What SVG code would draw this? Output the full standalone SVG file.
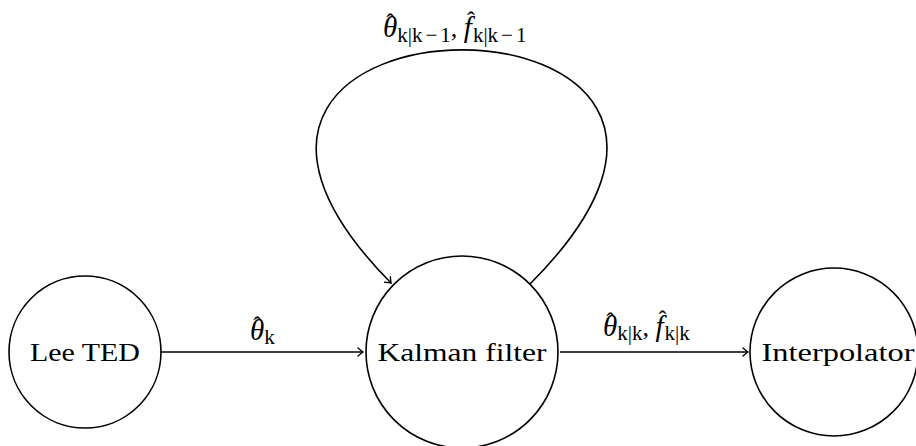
<svg xmlns="http://www.w3.org/2000/svg" width="916" height="446" viewBox="0 0 916 446">
<style>
.node{fill:#fff;stroke:#000;stroke-width:1.6}
.edge{fill:none;stroke:#000;stroke-width:1.6}
.lbl{font-family:"Liberation Serif","DejaVu Serif",serif;fill:#000}
.v{font-style:italic;font-size:29px}
.h{font-size:24px}
.s{font-size:21px}
.c{font-size:26px}
</style>
<defs>
<marker id="arr" viewBox="-6 -5 8 10" markerWidth="8" markerHeight="10" refX="0" refY="0" orient="auto" markerUnits="userSpaceOnUse">
<path d="M-5,-4 Q-1.5,-1 0,0 Q-1.5,1 -5,4" fill="none" stroke="#000" stroke-width="1.4" stroke-linecap="round"/>
</marker>
</defs>
<g id="connectors">
<path class="edge" d="M161,352 L363,352" marker-end="url(#arr)"/>
<path class="edge" d="M560,352 L748,352" marker-end="url(#arr)"/>
<path class="edge" d="M530,284 C842,-28 84,-28 391,283" marker-end="url(#arr)"/>
<text class="lbl" x="250" y="340"><tspan class="v">θ</tspan><tspan class="h" dx="-11" dy="-7">ˆ</tspan><tspan class="s" dx="3" dy="11">k</tspan></text>
<text class="lbl" x="603" y="336"><tspan class="v">θ</tspan><tspan class="h" dx="-11" dy="-7">ˆ</tspan><tspan class="s" dx="3" dy="11">k|k</tspan><tspan class="c" dy="-4">, </tspan><tspan class="v">f</tspan><tspan class="h" dx="-5" dy="-9">ˆ</tspan><tspan class="s" dx="-2" dy="13">k|k</tspan></text>
<text class="lbl" x="383" y="37"><tspan class="v">θ</tspan><tspan class="h" dx="-11" dy="-7">ˆ</tspan><tspan class="s" dx="3" dy="12">k|k</tspan><tspan class="s" dx="3">−</tspan><tspan class="s" dx="3">1</tspan><tspan class="c" dy="-5">, </tspan><tspan class="v">f</tspan><tspan class="h" dx="-5" dy="-9">ˆ</tspan><tspan class="s" dx="-2" dy="14">k|k</tspan><tspan class="s" dx="3">−</tspan><tspan class="s" dx="3">1</tspan></text>
</g>
<g id="lee">
<circle class="node" cx="85" cy="352" r="76"/>
<text class="lbl" x="85" y="361" font-size="26" text-anchor="middle" textLength="110" lengthAdjust="spacingAndGlyphs">Lee TED</text>
</g>
<g id="kalman">
<circle class="node" cx="462" cy="352" r="96"/>
<text class="lbl" x="462" y="361" font-size="26" text-anchor="middle" textLength="169" lengthAdjust="spacingAndGlyphs">Kalman filter</text>
</g>
<g id="interp">
<circle class="node" cx="834" cy="352" r="84"/>
<text class="lbl" x="838" y="361" font-size="26" text-anchor="middle" textLength="153" lengthAdjust="spacingAndGlyphs">Interpolator</text>
</g>
</svg>
